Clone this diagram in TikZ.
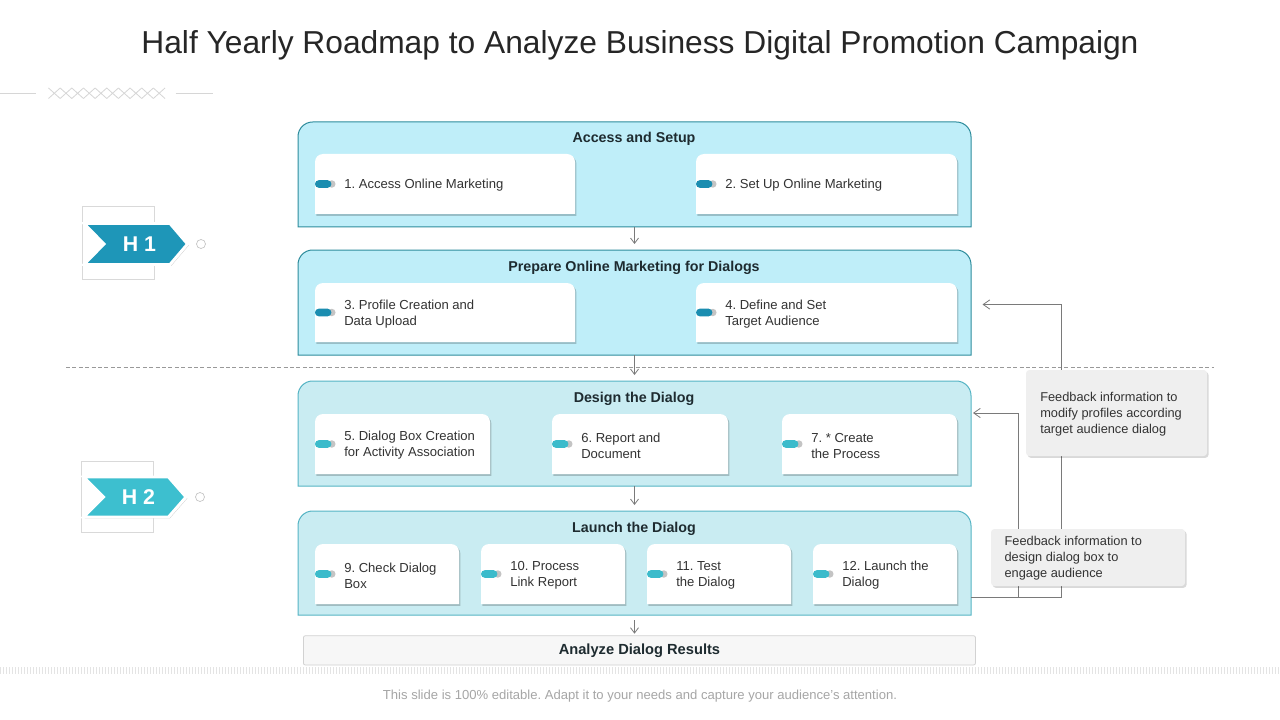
\documentclass[tikz,border=0pt]{standalone}
\usepackage{fontspec}
\setmainfont{Liberation Sans}
\usetikzlibrary{arrows.meta,shadows,fit,calc}
\frenchspacing
\definecolor{titlec}{HTML}{262626}
\definecolor{txt}{HTML}{333333}
\definecolor{headc}{HTML}{1E2B30}
\definecolor{upfill}{HTML}{BFEEF9}
\definecolor{upline}{HTML}{2E8C9C}
\definecolor{lofill}{HTML}{C9ECF2}
\definecolor{loline}{HTML}{55B4C4}
\definecolor{pillA}{HTML}{1B8DB0}
\definecolor{pillB}{HTML}{3BBBCB}
\definecolor{pillgray}{HTML}{C4C4C4}
\definecolor{hA}{HTML}{1E96B8}
\definecolor{hB}{HTML}{3DBFCF}
\definecolor{conn}{HTML}{7A7A7A}
\definecolor{fbfill}{HTML}{EFEFEF}
\definecolor{sqc}{HTML}{D9D9D9}
\definecolor{decoc}{HTML}{D6D6D6}
\definecolor{dashc}{HTML}{999999}
\definecolor{anfill}{HTML}{F7F7F7}
\definecolor{anline}{HTML}{D2D2D2}
\definecolor{footc}{HTML}{A6A6A6}
\definecolor{stripec}{HTML}{E4E4E4}

\newcommand\TopRound[3]{\path[#1] (#2.south west) -- ([yshift=-#3]#2.north west) arc[start angle=180,end angle=90,radius=#3] -- ([xshift=-#3]#2.north east) arc[start angle=90,end angle=0,radius=#3] -- (#2.south east) -- cycle;}
\newcommand\Pill[2]{%
  \fill[pillgray] ([xshift=12.6pt]#1.west) circle[radius=2.8pt];
  \fill[#2, rounded corners=2.8pt] ([yshift=-2.85pt]#1.west) rectangle ([xshift=12.3pt,yshift=2.85pt]#1.west);}
\newcommand\Card[7]{%
  \node[area, fit={(#2,-#3)(#4,-#5)}] (#1) {};
  \TopRound{cardshape}{#1}{6pt}
  \Pill{#1}{#6}
  \node[cardtxt] (#1t) at ([xshift=21.75pt,yshift=-1.2pt]#1.west) {#7};}

\tikzset{
  area/.style={inner sep=0pt, outer sep=0pt},
  upbox/.style={fill=upfill, draw=upline, line width=0.75pt},
  lobox/.style={fill=lofill, draw=loline, line width=0.75pt},
  cardshape/.style={fill=white, drop shadow={shadow xshift=1.1pt, shadow yshift=-1.4pt, opacity=0.2, fill=black}},
  cardtxt/.style={anchor=west, align=left, inner sep=0pt, font=\fontsize{9.8}{12}\selectfont, text=txt},
  head/.style={font=\bfseries\fontsize{10.7}{13}\selectfont, text=headc, inner sep=0pt},
  flow/.style={draw=conn, line width=0.6pt, -{Straight Barb[length=4pt,width=6pt]}, shorten >=4.5pt},
  fbline/.style={draw=conn, line width=0.6pt},
  fbarrow/.style={fbline, -{Straight Barb[length=5pt,width=7pt]}},
  fbbox/.style={area, fill=fbfill, rounded corners=2.5pt, drop shadow={shadow xshift=1.2pt, shadow yshift=-1.4pt, opacity=0.15, fill=black}},
  fbtxt/.style={anchor=west, align=left, inner sep=0pt, font=\fontsize{9.6}{12}\selectfont, text=txt},
  hshape/.style={draw=white, line width=2.2pt, line join=miter, drop shadow={shadow xshift=1pt, shadow yshift=-1pt, opacity=0.2, fill=black}},
  htxt/.style={font=\bfseries\fontsize{16}{18}\selectfont, text=white, inner sep=0pt},
  hsq/.style={area, draw=sqc, line width=0.6pt},
  knob/.style={circle, draw=pillgray, fill=white, minimum size=6.75pt, inner sep=0pt, line width=0.5pt},
}

\begin{document}
\begin{tikzpicture}[x=0.75pt,y=0.75pt]
\useasboundingbox[fill=white] (0,0) rectangle (1280,-720);

% title
\node[font=\fontsize{23.8}{28}\selectfont, text=titlec] (title) at (640,-45) {Half Yearly Roadmap to Analyze Business Digital Promotion Campaign};

% decoration
\draw[decoc, line width=0.6pt] (0,-93.3) -- (36,-93.3) (175.7,-93.3) -- (213,-93.3);
\foreach \i in {0,...,9} {
  \draw[decoc, line width=0.6pt] ({48.5+11.65*\i},-88) -- ({48.5+11.65*(\i+1)},-98.5)
                                  ({48.5+11.65*\i},-98.5) -- ({48.5+11.65*(\i+1)},-88);
}

% dashed separator
\draw[dashc, line width=0.6pt, dash pattern=on 3pt off 1.8pt] (66,-367) -- (1214,-367);

% big boxes
\node[area, fit={(298,-122)(971,-227)}] (b1) {};
\TopRound{upbox}{b1}{11pt}
\node[head] (b1h) at (634,-138.5) {Access and Setup};
\node[area, fit={(298,-250)(971,-355)}] (b2) {};
\TopRound{upbox}{b2}{11pt}
\node[head] (b2h) at (634,-267.5) {Prepare Online Marketing for Dialogs};
\node[area, fit={(298,-381)(971,-486)}] (b3) {};
\TopRound{lobox}{b3}{11pt}
\node[head] (b3h) at (634,-398.5) {Design the Dialog};
\node[area, fit={(298,-511)(971,-615)}] (b4) {};
\TopRound{lobox}{b4}{11pt}
\node[head] (b4h) at (634,-528.5) {Launch the Dialog};

% cards
\Card{c1}{315}{154}{575}{214}{pillA}{1. Access Online Marketing}
\Card{c2}{696}{154}{957}{214}{pillA}{2. Set Up Online Marketing}
\Card{c3}{315}{283}{575}{342}{pillA}{3. Profile Creation and\\Data Upload}
\Card{c4}{696}{283}{957}{342}{pillA}{4. Define and Set\\Target Audience}
\Card{c5}{315}{414}{490}{474}{pillB}{5. Dialog Box Creation\\for Activity Association}
\Card{c6}{552}{414}{728}{474}{pillB}{6. Report and\\Document}
\Card{c7}{782}{414}{957}{474}{pillB}{7. * Create\\the Process}
\Card{c9}{315}{544}{459}{604}{pillB}{9. Check Dialog\\Box}
\Card{c10}{481}{544}{625}{604}{pillB}{10. Process\\Link Report}
\Card{c11}{647}{544}{791}{604}{pillB}{11. Test\\the Dialog}
\Card{c12}{813}{544}{957}{604}{pillB}{12. Launch the\\Dialog}

% analyze box
\node[area, fill=anfill, draw=anline, line width=0.6pt, rounded corners=1.5pt, fit={(303.4,-635.7)(975.5,-665)}] (an) {};
\node[font=\bfseries\fontsize{11}{13}\selectfont, text=headc, inner sep=0pt] (ant) at ([yshift=-0.6pt]an.center) {Analyze Dialog Results};

% flow arrows
\draw[flow] (b1.south) -- (b2.north);
\draw[flow] (b2.south) -- (b3.north);
\draw[flow] (b3.south) -- (b4.north);
\draw[flow, shorten >=1.5pt] ([yshift=-4pt]b4.south) -- (an.north -| b4.south);

% feedback connectors
\coordinate (fbo) at ($(b4.south east)+(0,18)$);
\draw[fbarrow] (fbo) -- (1061,-597) -- (1061,-304.5) -- ($(b2.east)+(11.5,-2)$);
\draw[fbarrow] (fbo) -- (1018.5,-597) -- (1018.5,-413) -- ($(b3.east)+(2,20.5)$);

% feedback boxes
\node[fbbox, fit={(1026,-370)(1207,-456)}] (f1) {};
\node[fbtxt] (f1t) at (1040,-414) {Feedback information to\\modify profiles according\\target audience dialog};
\node[fbbox, fit={(991,-529)(1185,-586)}] (f2) {};
\node[fbtxt] (f2t) at (1004.3,-558.5) {Feedback information to\\design dialog box to\\engage audience};

% H tags
\node[hsq, fit={(82.7,-206.7)(154.3,-279.3)}] (sq1) {};
\path[hshape, fill=hA] (84,-223.5) -- (170,-223.5) -- (187.5,-244) -- (170,-264.5) -- (84,-264.5) -- (104,-244) -- cycle;
\node[htxt] (H1) at (139.5,-244.5) {H 1};
\node[knob] (k1) at (201,-244) {};

\node[hsq, fit={(81.7,-461)(153,-532.7)}] (sq2) {};
\path[hshape, fill=hB] (83.5,-477) -- (168.5,-477) -- (186,-497) -- (168.5,-517) -- (83.5,-517) -- (103.5,-497) -- cycle;
\node[htxt] (H2) at (138.5,-497.5) {H 2};
\node[knob] (k2) at (200,-497) {};

% striped band
\foreach \x in {0,3,...,1279} \draw[stripec, line width=0.75pt] (\x,-667) -- (\x,-674);

% footer
\node[font=\fontsize{9.8}{12}\selectfont, text=footc, inner sep=0pt] (foot) at (640,-696) {This slide is 100\% editable. Adapt it to your needs and capture your audience’s attention.};
\end{tikzpicture}
\end{document}
